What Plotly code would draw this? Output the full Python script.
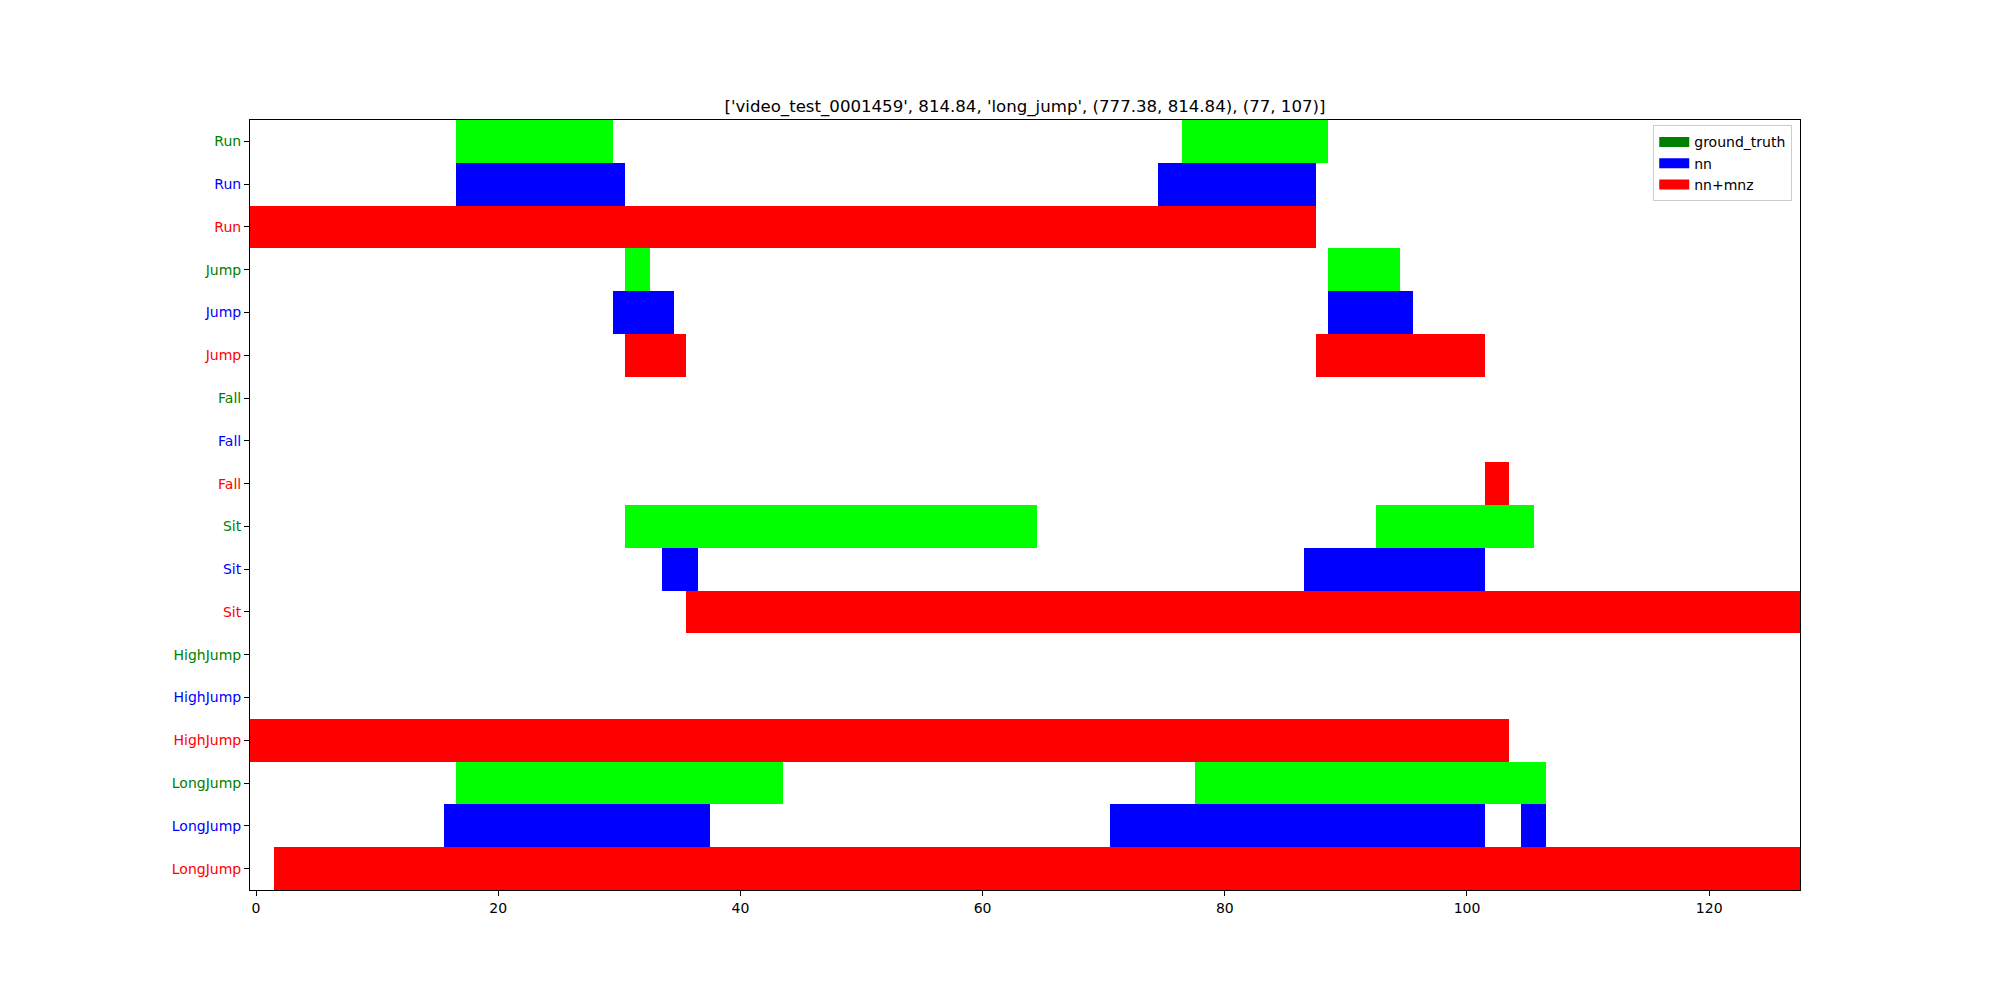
import plotly.graph_objects as go

# ---- data (frame indices, inclusive start/end) ----
actions = ["Run", "Jump", "Fall", "Sit", "HighJump", "LongJump"]
sources = ["ground_truth", "nn", "nn+mnz"]

gt_segments = {
    "Run": [(17, 29), (77, 88)],
    "Jump": [(31, 32), (89, 94)],
    "Fall": [],
    "Sit": [(31, 64), (93, 105)],
    "HighJump": [],
    "LongJump": [(17, 43), (78, 106)],
}
nn_segments = {
    "Run": [(17, 30), (75, 87)],
    "Jump": [(30, 34), (89, 95)],
    "Fall": [],
    "Sit": [(34, 36), (87, 101)],
    "HighJump": [],
    "LongJump": [(16, 37), (71, 101), (105, 106)],
}
mnz_segments = {
    "Run": [(0, 87)],
    "Jump": [(31, 35), (88, 101)],
    "Fall": [(102, 103)],
    "Sit": [(36, 127)],
    "HighJump": [(0, 103)],
    "LongJump": [(2, 127)],
}
n_frames = 128
x_ticks = [0, 20, 40, 60, 80, 100, 120]
title_text = "['video_test_0001459', 814.84, 'long_jump', (777.38, 814.84), (77, 107)]"

bar_colors = {"ground_truth": "#00ff00", "nn": "#0000ff", "nn+mnz": "#ff0000"}
legend_colors = {"ground_truth": "#008000", "nn": "#0000ff", "nn+mnz": "#ff0000"}
label_colors = {"ground_truth": "#008000", "nn": "#0000ff", "nn+mnz": "#ff0000"}
seg_by_source = {"ground_truth": gt_segments, "nn": nn_segments, "nn+mnz": mnz_segments}

fig = go.Figure()

tickvals, ticktext = [], []
row = 0
for a in actions:
    for s in sources:
        segs = seg_by_source[s][a]
        if segs:
            fig.add_trace(go.Bar(
                orientation="h",
                y=[row] * len(segs),
                base=[st - 0.5 for st, en in segs],
                x=[en - st + 1 for st, en in segs],
                width=1,
                marker=dict(color=bar_colors[s], line=dict(width=0)),
                showlegend=False,
                hoverinfo="skip",
            ))
        tickvals.append(row)
        ticktext.append(f'<span style="color:{label_colors[s]}">{a}</span>')
        row += 1

# legend entries (rectangular swatches)
for s in sources:
    fig.add_trace(go.Scatter(
        x=[None], y=[None], mode="lines",
        line=dict(color=legend_colors[s], width=10),
        name=s, showlegend=True, hoverinfo="skip",
    ))

font_family = "DejaVu Sans"
fig.update_layout(
    width=2000, height=1000,
    margin=dict(l=250, r=200, t=120, b=110, pad=0),
    paper_bgcolor="white", plot_bgcolor="white",
    barmode="overlay", bargap=0,
    font=dict(family=font_family, size=14, color="black"),
    title=dict(text=title_text, x=0.5, xref="paper", y=1 - 106 / 1000,
               yref="container", xanchor="center", yanchor="middle",
               font=dict(family=font_family, size=16.6, color="black")),
    legend=dict(x=0.995, y=0.993, xanchor="right", yanchor="top",
                bgcolor="white", bordercolor="#cccccc", borderwidth=1,
                font=dict(family=font_family, size=14),
                tracegroupgap=0),
    xaxis=dict(range=[-0.5, n_frames - 0.5], tickvals=x_ticks,
               ticks="outside", ticklen=5, tickwidth=1, tickcolor="black",
               showline=True, linecolor="black", linewidth=1, mirror=True,
               showgrid=False, zeroline=False,
               tickfont=dict(family=font_family, size=14)),
    yaxis=dict(range=[len(tickvals) - 0.5, -0.5], tickvals=tickvals,
               ticktext=ticktext, ticks="outside", ticklen=5, tickwidth=1,
               tickcolor="black", showline=True, linecolor="black",
               linewidth=1, mirror=True, showgrid=False, zeroline=False,
               tickfont=dict(family=font_family, size=14)),
)

fig.write_html("out.html")
